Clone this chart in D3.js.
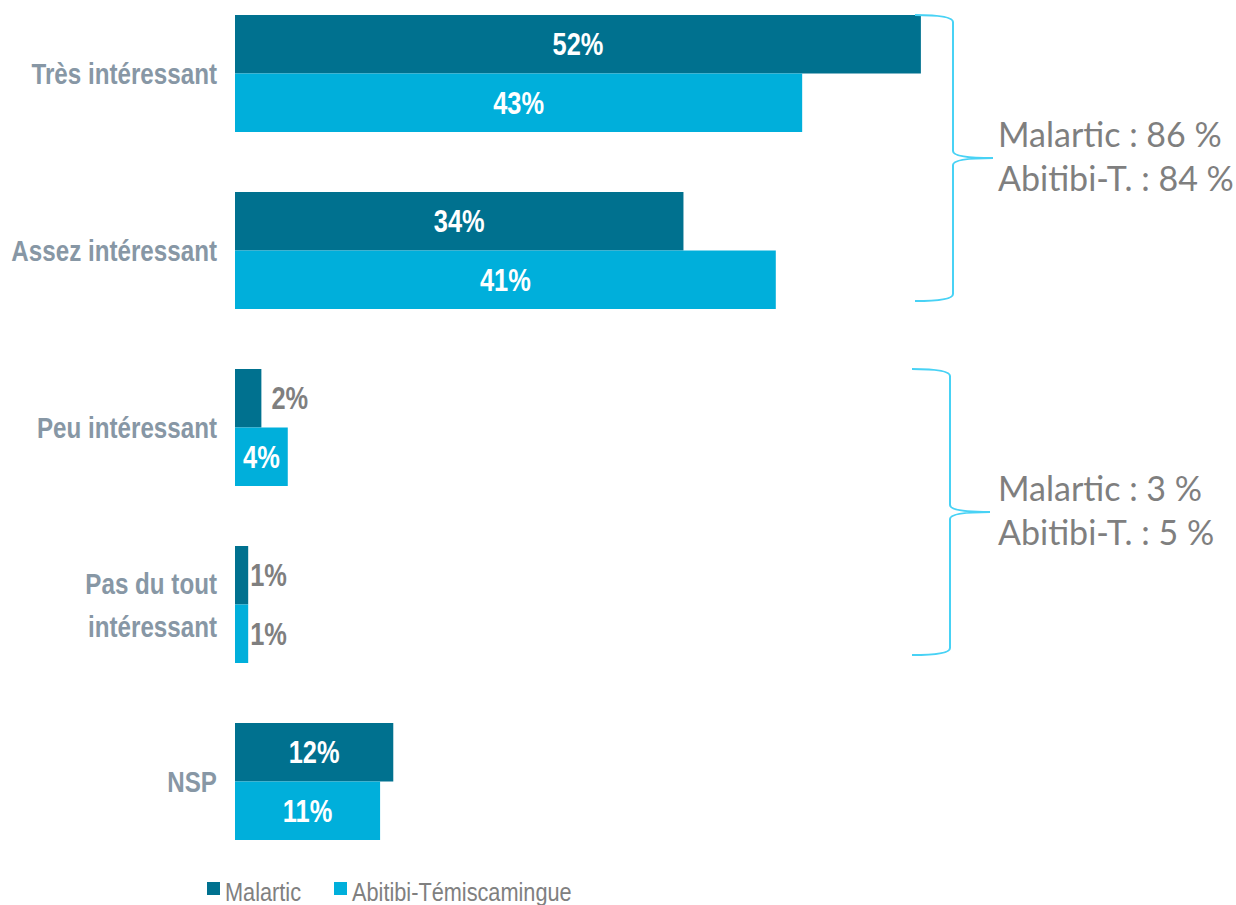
<!DOCTYPE html>
<html>
<head>
<meta charset="utf-8">
<script src="https://cdn.jsdelivr.net/npm/d3@7"></script>
<style>
  html, body { margin: 0; padding: 0; background: #fff; }
  svg { display: block; }
</style>
</head>
<body>
<svg id="chart" width="1236" height="905"></svg>
<script>
const categories = ["Très intéressant", "Assez intéressant", "Peu intéressant", "Pas du tout intéressant", "NSP"];
const categoryLines = [["Très intéressant"], ["Assez intéressant"], ["Peu intéressant"], ["Pas du tout", "intéressant"], ["NSP"]];
const seriesNames = ["Malartic", "Abitibi-Témiscamingue"];
const malarticValues = [52, 34, 2, 1, 12];
const abitibiValues = [43, 41, 4, 1, 11];
const braceGroups = [
  { from: "Très intéressant", to: "Assez intéressant", lines: ["Malartic : 86 %", "Abitibi-T. : 84 %"] },
  { from: "Peu intéressant", to: "Pas du tout intéressant", lines: ["Malartic : 3 %", "Abitibi-T. : 5 %"] }
];

const colors = { "Malartic": "#00718f", "Abitibi-Témiscamingue": "#00afdb" };
const sansFont = "'Liberation Sans', Arial, sans-serif";
const calibriLike = "Lato, 'Open Sans', sans-serif";
const NARROW = 0.82; // horizontal condensation to mimic Arial Narrow

const svg = d3.select("#chart");

const x = d3.scaleLinear().domain([0, 100]).range([235, 235 + 1319]);
const y = d3.scaleBand().domain(categories).range([15, 840]).paddingInner(0.339).paddingOuter(0);
const ySub = d3.scaleBand().domain(seriesNames).range([0, y.bandwidth()]);

const rows = [];
categories.forEach((c, i) => {
  rows.push({ cat: c, series: seriesNames[0], value: malarticValues[i] });
  rows.push({ cat: c, series: seriesNames[1], value: abitibiValues[i] });
});

function narrowText(parent, tx, ty, str, opts) {
  const g = parent.append("g").attr("transform", `translate(${tx},${ty}) scale(${NARROW},1)`);
  return g.append("text")
    .attr("x", 0).attr("y", 0)
    .attr("text-anchor", opts.anchor || "start")
    .attr("dy", opts.dy || null)
    .attr("fill", opts.fill)
    .style("font-family", sansFont)
    .style("font-weight", opts.weight || "normal")
    .style("font-size", opts.size + "px")
    .text(str);
}

// bars
svg.append("g").selectAll("rect").data(rows).join("rect")
  .attr("x", x(0))
  .attr("y", d => y(d.cat) + ySub(d.series))
  .attr("width", d => x(d.value) - x(0))
  .attr("height", ySub.bandwidth())
  .attr("fill", d => colors[d.series]);

// value labels
const valG = svg.append("g");
rows.forEach(d => {
  const inside = d.value >= 3;
  const tx = inside ? (x(0) + x(d.value)) / 2 : x(d.value) + (d.value >= 2 ? 10 : 2);
  const ty = y(d.cat) + ySub(d.series) + ySub.bandwidth() / 2;
  narrowText(valG, tx, ty, d.value + "%", {
    anchor: inside ? "middle" : "start",
    dy: "0.36em",
    fill: inside ? "#ffffff" : "#7f7f7f",
    weight: "bold",
    size: 31
  });
});

// category labels
const catG = svg.append("g");
categories.forEach((c, i) => {
  const lines = categoryLines[i];
  const cy = y(c) + y.bandwidth() / 2;
  const lh = 43;
  lines.forEach((ln, j) => {
    narrowText(catG, 217, cy + (j - (lines.length - 1) / 2) * lh, ln, {
      anchor: "end",
      dy: "0.36em",
      fill: "#8797a5",
      weight: "bold",
      size: 29.5
    });
  });
});

// braces
const braceG = svg.append("g");
braceGroups.forEach((b, i) => {
  const top = y(b.from);
  const bot = y(b.to) + y.bandwidth() - 8;
  const mid = (top + bot) / 2;
  const xl = i === 0 ? 915 : 912;
  const xv = xl + 38;
  const xt = xv + 40;
  const r = 7;
  const p = d3.path();
  p.moveTo(xl, top);
  p.quadraticCurveTo(xv, top, xv, top + r);
  p.lineTo(xv, mid - r);
  p.quadraticCurveTo(xv, mid, xt, mid);
  p.quadraticCurveTo(xv, mid, xv, mid + r);
  p.lineTo(xv, bot - r);
  p.quadraticCurveTo(xv, bot, xl, bot);
  braceG.append("path")
    .attr("d", p.toString())
    .attr("fill", "none")
    .attr("stroke", "#48d2f5")
    .attr("stroke-width", 2);
  b.lines.forEach((ln, j) => {
    braceG.append("text")
      .attr("x", 998)
      .attr("y", mid - 11 + j * 44)
      .attr("fill", "#7f7f7f")
      .style("font-family", calibriLike)
      .style("font-size", "34px")
      .text(ln);
  });
});

// legend
const legX = [207, 334];
const lg = svg.append("g");
seriesNames.forEach((s, i) => {
  lg.append("rect")
    .attr("x", legX[i]).attr("y", 882)
    .attr("width", 13).attr("height", 13)
    .attr("fill", colors[s]);
  narrowText(lg, legX[i] + 18, 901, s, { fill: "#808080", size: 26.5 });
});
</script>
</body>
</html>
